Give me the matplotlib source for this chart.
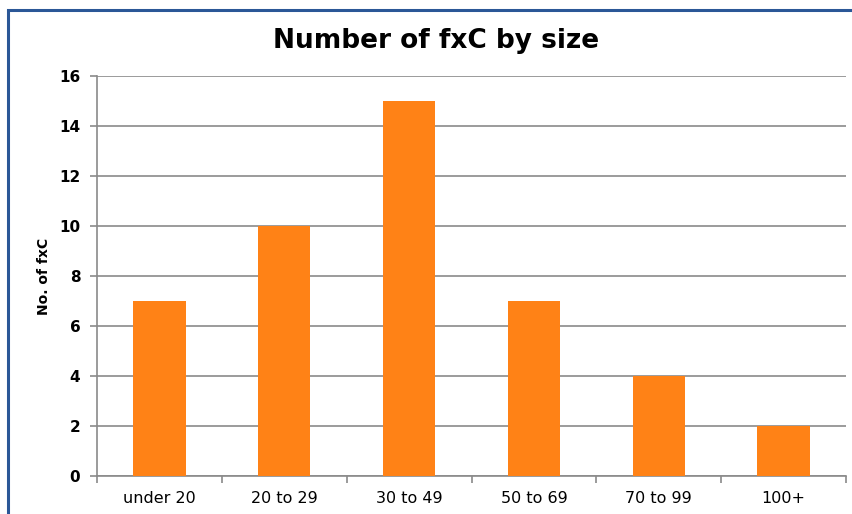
import matplotlib
matplotlib.use("Agg")
import matplotlib.pyplot as plt
from matplotlib.patches import Rectangle
import numpy as np

categories = ["under 20", "20 to 29", "30 to 49", "50 to 69", "70 to 99", "100+"]
values = [7, 10, 15, 7, 4, 2]
yticks = [0, 2, 4, 6, 8, 10, 12, 14, 16]

W, H = 852, 514
fig = plt.figure(figsize=(W/100, H/100), dpi=100)
fig.patch.set_facecolor("white")

# plot area in pixels
L, R, T, B = 97, 846, 76, 476
ax = fig.add_axes([L/W, 1 - B/H, (R-L)/W, (B-T)/H])

x = np.arange(len(categories))
ax.bar(x, values, width=0.42, color="#FF8216", zorder=3)
ax.set_xlim(-0.5, len(categories) - 0.5)
ax.set_ylim(0, 16)
ax.set_yticks(yticks)
ax.set_yticklabels([str(v) for v in yticks], fontsize=11, fontweight="bold",
                   family="DejaVu Sans")
ax.yaxis.grid(True, color="#8a8a8a", linewidth=1.2, zorder=0)
ax.tick_params(axis="y", length=5, width=1.2, color="#8a8a8a", pad=7)

ax.set_xticks(x)
ax.set_xticklabels(categories, fontsize=11.5, family="DejaVu Sans")
ax.tick_params(axis="x", length=0, pad=10.5)
ax.set_xticks(np.arange(len(categories) + 1) - 0.5, minor=True)
ax.tick_params(axis="x", which="minor", length=5, width=1.2, color="#8a8a8a")

for s in ["top", "right"]:
    ax.spines[s].set_visible(False)
for s in ["left", "bottom"]:
    ax.spines[s].set_color("#8a8a8a")
    ax.spines[s].set_linewidth(1.2)

ax.set_ylabel("No. of fxC", fontsize=10, fontweight="bold")
ax.yaxis.set_label_coords((51 - L) / (R - L), 0.5)

fig.text(436/W, 1 - 41/H, "Number of fxC by size", fontsize=19, fontweight="bold",
         ha="center", va="center")

# outer border (right/bottom edges fall outside the image)
fig.patches.append(Rectangle((8/W, -0.05), 1.1, 1 - 10/H + 0.05,
                             transform=fig.transFigure, fill=False,
                             edgecolor="#2B5797", linewidth=2.2))

fig.savefig("out.png", dpi=100)
